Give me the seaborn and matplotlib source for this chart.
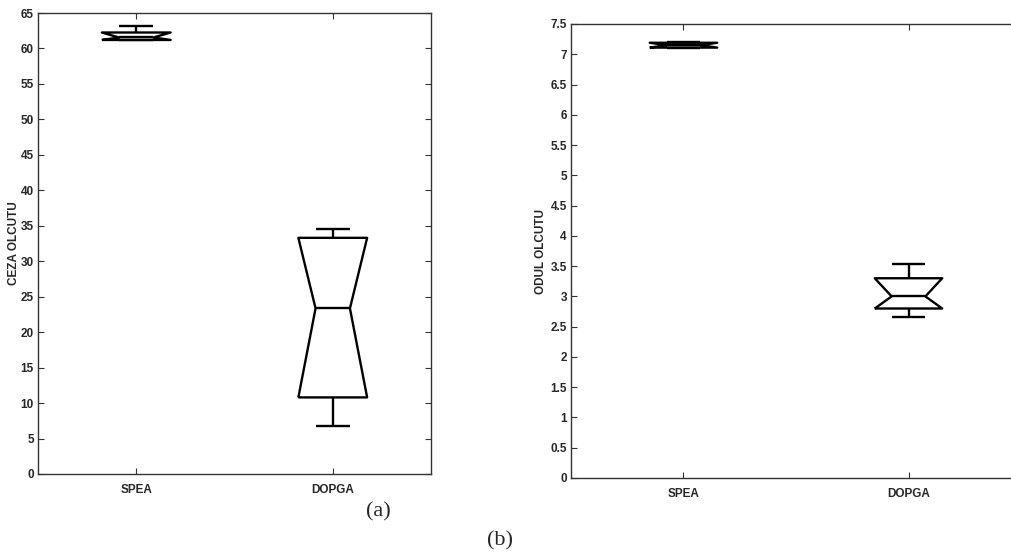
import matplotlib
matplotlib.use("Agg")
import matplotlib as mpl
import matplotlib.pyplot as plt
import seaborn as sns
import pandas as pd

# ---- data (five-number summaries: min, q1, median, q3, max)
groups = ["SPEA", "DOPGA"]
ceza_spea = [61.2, 61.2, 61.55, 62.25, 63.1]
ceza_dopga = [6.8, 10.8, 23.35, 33.3, 34.5]
odul_spea = [7.10, 7.11, 7.15, 7.19, 7.21]
odul_dopga = [2.66, 2.80, 3.00, 3.30, 3.53]
ceza_ticks = [0, 5, 10, 15, 20, 25, 30, 35, 40, 45, 50, 55, 60, 65]
odul_ticks = [0, 0.5, 1, 1.5, 2, 2.5, 3, 3.5, 4, 4.5, 5, 5.5, 6, 6.5, 7, 7.5]
ylabels = ["CEZA OLCUTU", "ODUL OLCUTU"]

# MATLAB-style notches: notch ends are clipped to the quartiles
_orig_stats = mpl.cbook.boxplot_stats
def _matlab_stats(*args, **kwargs):
    stats = _orig_stats(*args, **kwargs)
    for s in stats:
        s["cilo"] = max(s["cilo"], s["q1"])
        s["cihi"] = min(s["cihi"], s["q3"])
    return stats
mpl.cbook.boxplot_stats = _matlab_stats

sns.set_style("ticks")
plt.rcParams["font.family"] = ["Liberation Sans", "DejaVu Sans"]

def long_df(a, b):
    return pd.DataFrame({
        "grp": [groups[0]] * len(a) + [groups[1]] * len(b),
        "val": list(a) + list(b),
    })

df_a = long_df(ceza_spea, ceza_dopga)
df_b = long_df(odul_spea, odul_dopga)

W, H = 1012, 558
fig = plt.figure(figsize=(W / 100, H / 100), dpi=100)
ax1 = fig.add_axes([38 / W, (H - 474) / H, (431 - 38) / W, (474 - 13) / H])
ax2 = fig.add_axes([571 / W, (H - 478) / H, (1021 - 571) / W, (478 - 24) / H])

spine_col = "#333333"
for ax, df, ticks, yl, ylim, bw, lx in [
    (ax1, df_a, ceza_ticks, ylabels[0], (0, 65), 0.35, (20 - 38) / 393),
    (ax2, df_b, odul_ticks, ylabels[1], (0, 7.5), 0.30, (547 - 571) / 450),
]:
    sns.boxplot(data=df, x="grp", y="val", order=groups, ax=ax, notch=True,
                fill=False, color="black", linecolor="black", linewidth=1.7,
                width=bw, whis=(0, 100), showfliers=False)
    ax.set_ylim(*ylim)
    ax.set_xlim(-0.5, 1.5)
    ax.set_yticks(ticks)
    ax.set_yticklabels([f"{t:g}" for t in ticks])
    ax.set_xlabel("")
    ax.set_ylabel(yl, fontsize=8.5, fontweight="bold")
    ax.yaxis.set_label_coords(lx, 0.5)
    ax.tick_params(direction="in", length=4, width=0.8, color=spine_col,
                   top=True, right=True, labelsize=8.5)
    ax.tick_params(axis="x", pad=7)
    ax.tick_params(axis="y", pad=3)
    for lab in ax.get_xticklabels() + ax.get_yticklabels():
        lab.set_fontweight("bold")
    for sp in ax.spines.values():
        sp.set_visible(True)
        sp.set_color(spine_col)
        sp.set_linewidth(1.0)
    for ln in ax.lines:
        ln.set_color("black")
        ln.set_solid_capstyle("butt")

fig.text(378 / W, 1 - 512 / H, "(a)", fontsize=16, family=["Liberation Serif"],
         ha="center", va="center")
fig.text(500 / W, 1 - 541 / H, "(b)", fontsize=16, family=["Liberation Serif"],
         ha="center", va="center")

fig.savefig("out.png", dpi=100)
